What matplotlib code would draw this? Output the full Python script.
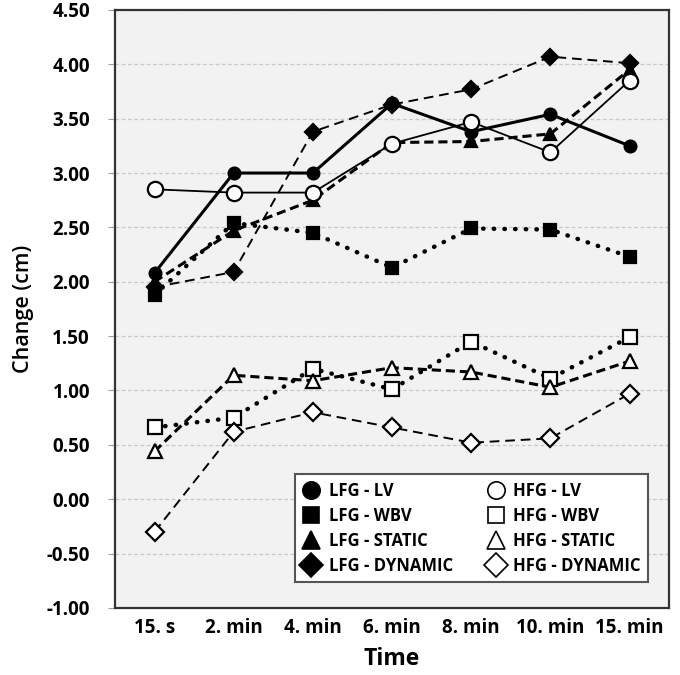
import matplotlib
matplotlib.use("Agg")
import matplotlib.pyplot as plt
from matplotlib.lines import Line2D

plt.rcParams['font.family'] = ['Open Sans', 'DejaVu Sans']

times = ["15. s", "2. min", "4. min", "6. min", "8. min", "10. min", "15. min"]

lfg_lv = [2.08, 3.00, 3.00, 3.64, 3.38, 3.54, 3.25]
lfg_wbv = [1.88, 2.54, 2.45, 2.13, 2.49, 2.48, 2.23]
lfg_static = [2.00, 2.47, 2.75, 3.28, 3.29, 3.36, 3.95]
lfg_dynamic = [1.95, 2.09, 3.38, 3.63, 3.77, 4.07, 4.01]
hfg_lv = [2.85, 2.82, 2.82, 3.27, 3.47, 3.19, 3.85]
hfg_wbv = [0.66, 0.75, 1.20, 1.01, 1.45, 1.11, 1.49]
hfg_static = [0.44, 1.14, 1.09, 1.21, 1.17, 1.03, 1.27]
hfg_dynamic = [-0.30, 0.62, 0.80, 0.66, 0.52, 0.56, 0.97]

labels = ["LFG - LV", "LFG - WBV", "LFG - STATIC", "LFG - DYNAMIC",
          "HFG - LV", "HFG - WBV", "HFG - STATIC", "HFG - DYNAMIC"]
yticks = [-1.0, -0.5, 0.0, 0.5, 1.0, 1.5, 2.0, 2.5, 3.0, 3.5, 4.0, 4.5]

fig = plt.figure(figsize=(6.8, 6.75), dpi=100)
ax = fig.add_axes([0.169, 0.0993, 0.815, 0.886])
ax.set_facecolor('#f2f2f2')

x = list(range(len(times)))
K = 'black'
DOT = (0, (0.1, 2.3))
styles = [
    dict(data=lfg_lv, marker='o', ms=8.5, mfc=K, ls='-', lw=2.2),
    dict(data=lfg_wbv, marker='s', ms=8.5, mfc=K, ls=DOT, lw=3.2),
    dict(data=lfg_static, marker='^', ms=9, mfc=K, ls=(0, (3, 1.6)), lw=2.2),
    dict(data=lfg_dynamic, marker='D', ms=8, mfc=K, ls=(0, (5, 3)), lw=1.4),
    dict(data=hfg_lv, marker='o', ms=11, mfc='white', ls='-', lw=1.3),
    dict(data=hfg_wbv, marker='s', ms=10, mfc='white', ls=DOT, lw=3.2),
    dict(data=hfg_static, marker='^', ms=10, mfc='white', ls=(0, (3, 1.6)), lw=2.2),
    dict(data=hfg_dynamic, marker='D', ms=9, mfc='white', ls=(0, (5, 3)), lw=1.4),
]
order = [3, 7, 1, 5, 2, 6, 4, 0]
for i in order:
    s = styles[i]
    ln, = ax.plot(x, s['data'], color=K, marker=s['marker'], markersize=s['ms'],
                  markerfacecolor=s['mfc'], markeredgecolor=K, markeredgewidth=1.6,
                  linestyle=s['ls'], linewidth=s['lw'], zorder=3 + i * 0.1)
    if s['ls'] == DOT:
        ln.set_dash_capstyle('round')

ax.set_xlim(-0.5, 6.5)
ax.set_ylim(-1.0, 4.5)
ax.set_yticks(yticks)
ax.set_yticklabels([f"{v:.2f}" for v in yticks], fontweight='bold', fontsize=13.5)
ax.set_xticks(x)
ax.set_xticklabels(times, fontweight='bold', fontsize=13.5)
ax.grid(axis='y', color='#c8c8c8', linestyle=(0, (3, 2)), linewidth=0.9, zorder=0)
ax.set_axisbelow(True)
ax.tick_params(axis='y', length=5, color='#a0a0a0', pad=13)
ax.tick_params(axis='x', length=0, pad=7)
for sp in ax.spines.values():
    sp.set_color('#333333')
    sp.set_linewidth(1.6)

ax.set_ylabel("Change (cm)", fontsize=15.5, fontweight='semibold', labelpad=9)
ax.set_xlabel("Time", fontsize=16.5, fontweight='bold', labelpad=7)

handles = []
for s in styles:
    lms = 12.5 if s['marker'] != 's' else 11
    handles.append(Line2D([], [], color=K, marker=s['marker'], markersize=lms,
                          markerfacecolor=s['mfc'], markeredgecolor=K,
                          markeredgewidth=1.2, linestyle='none'))
leg = ax.legend(handles, labels, ncol=2, loc='lower right',
                bbox_to_anchor=(0.962, 0.043), frameon=True, fancybox=False,
                prop=dict(weight='bold', size=12), handlelength=1.1,
                handletextpad=0.5, columnspacing=2.0, labelspacing=0.42,
                borderpad=0.45, borderaxespad=0)
leg.get_frame().set_edgecolor('#555555')
leg.get_frame().set_linewidth(1.5)
leg.get_frame().set_facecolor('white')
leg.get_frame().set_alpha(1)
leg.set_zorder(10)

fig.savefig("out.png", dpi=100, facecolor='white')
